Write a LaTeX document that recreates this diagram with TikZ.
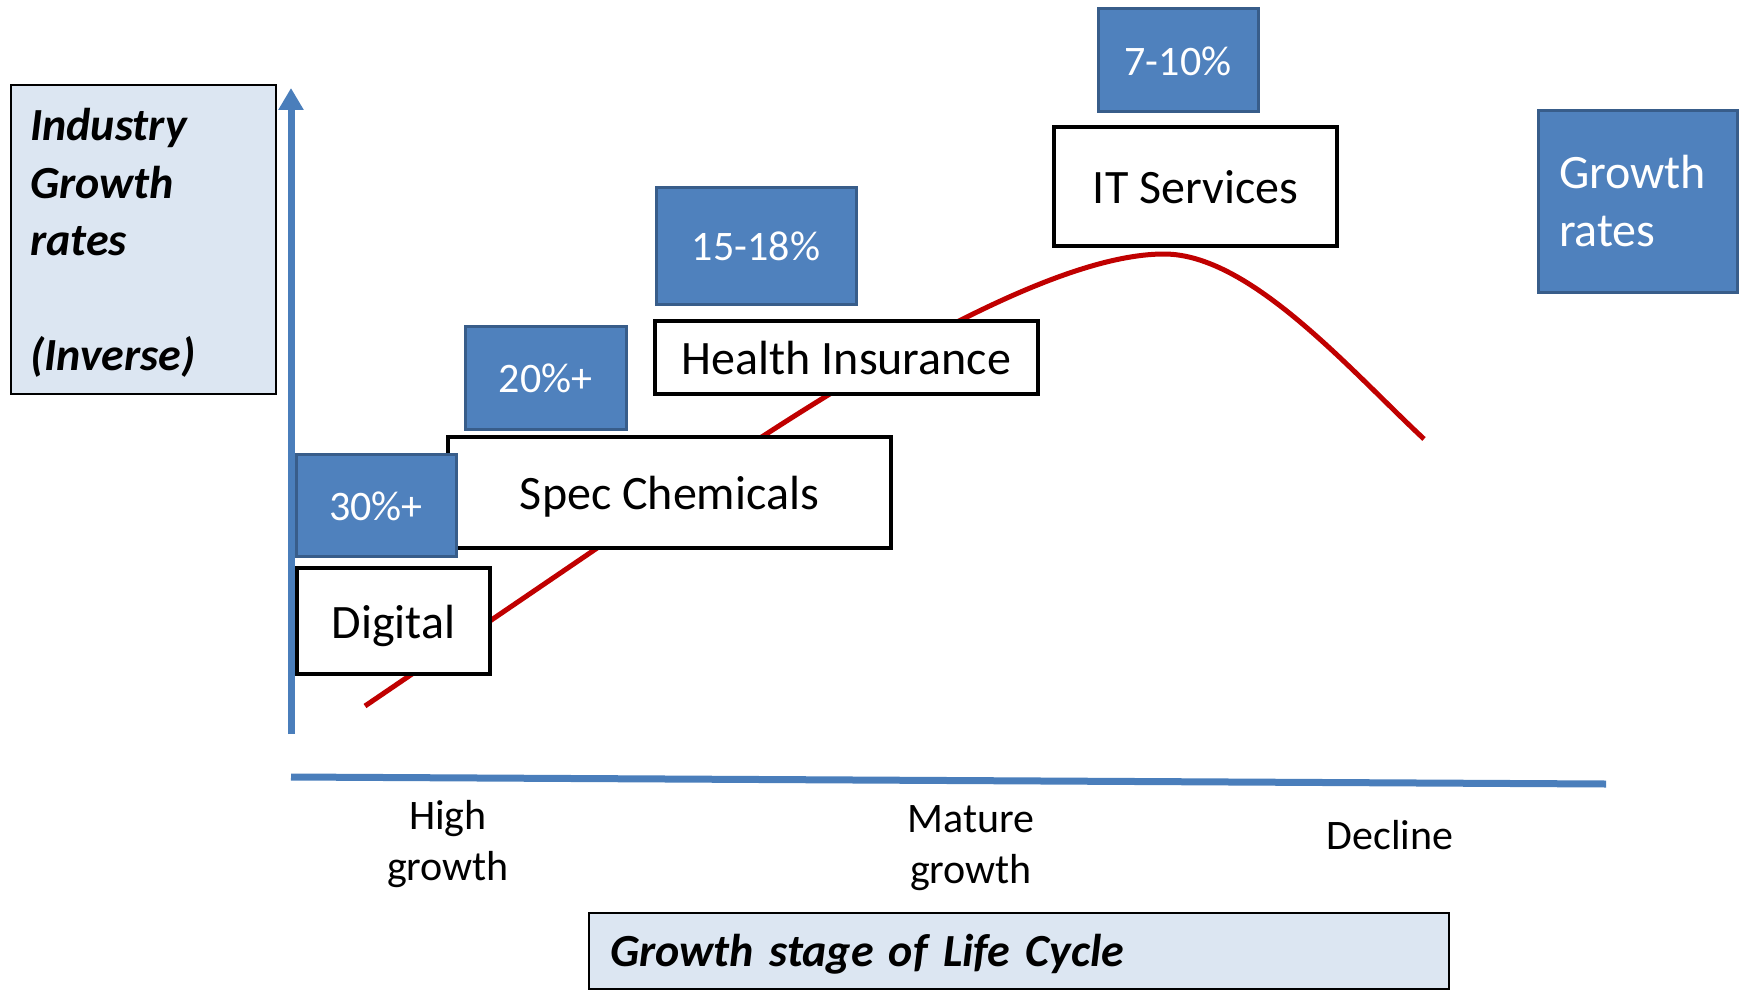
\documentclass[tikz,border=0pt]{standalone}
\usepackage{fontspec}
\setmainfont{Carlito}
\usetikzlibrary{arrows.meta}
\definecolor{boxblue}{HTML}{4F81BD}
\definecolor{boxborder}{HTML}{385D8A}
\definecolor{axisblue}{HTML}{4A7EBB}
\definecolor{lightfill}{HTML}{DCE6F2}
\definecolor{curvered}{HTML}{C00000}
\begin{document}
\begin{tikzpicture}[x=0.5pt,y=-0.5pt,
  blackbox/.style={draw=black, line width=2.2pt, fill=white, inner sep=0pt,
    text height=19.5pt, text depth=2.5pt,
    font=\fontsize{24}{29}\selectfont},
  bluebox/.style={draw=boxborder, line width=1.5pt, fill=boxblue, text=white,
    inner sep=0pt, text height=17pt, text depth=1.8pt, font=\fontsize{21}{25}\selectfont},
  lightbox/.style={draw=black, line width=0.75pt, fill=lightfill, inner ysep=0pt,
    align=left, font=\fontsize{23}{28.7}\selectfont\bfseries\itshape},
  axisline/.style={draw=axisblue, line width=3.5pt},
  lifecurve/.style={draw=curvered, line width=2.5pt},
  stagelabel/.style={align=center, inner sep=0pt, font=\fontsize{21}{25.5}\selectfont}]
\useasboundingbox (0,0) rectangle (1744,990);

% axes
\coordinate (yaxisbot) at (291,734);
\coordinate (yaxistop) at (291,88);
\coordinate (xaxisL) at (291,777);
\coordinate (xaxisR) at (1606,784);
\draw[axisline,-{Triangle[width=12pt,length=11pt]}] (yaxisbot) -- (yaxistop);
\draw[axisline] (xaxisL) -- (xaxisR);

% life cycle curve
\coordinate (cstart) at (365,706);
\coordinate (cpeak) at (1164,254);
\coordinate (cend) at (1424,439);
\draw[lifecurve] (cstart) -- (700,478) .. controls (880,356) and (1060,254) .. (cpeak)
  .. controls (1250,254) and (1350,370) .. (cend);

% axis title boxes
\node[lightbox, minimum width=132.5pt, minimum height=154.5pt, inner xsep=9.5pt,
  text width=113.5pt] (ytitle) at (143.5,239.5)
  {\rule{0pt}{19.5pt}Industry\\Growth\\rates\\\mbox{}\\(Inverse)};
\node[lightbox, minimum width=430pt, minimum height=38pt, inner xsep=10.5pt,
  text width=409pt, text height=17pt, text depth=2pt,
  font=\fontsize{23}{28}\selectfont\bfseries\itshape] (xtitle) at (1019,951)
  {Growth stage of Life Cycle};

% stage labels
\node[stagelabel] (high) at (448,844) {High\\growth};
\node[stagelabel] (mature) at (971,848) {Mature\\growth};
\node[stagelabel] (decline) at (1390,835) {Decline};

% industries
\node[blackbox, minimum width=221.5pt, minimum height=55.5pt] (spec) at (669.5,492.5) {Spec Chemicals};
\node[bluebox, minimum width=80pt, minimum height=51pt] (r30) at (376,505) {30\%+};
\node[blackbox, minimum width=96.5pt, minimum height=53pt] (digital) at (393.5,621) {Digital};
\node[bluebox, minimum width=80.5pt, minimum height=51.5pt] (r20) at (545.5,377.5) {20\%+};
\node[blackbox, minimum width=191.5pt, minimum height=36.5pt] (health) at (846.5,357.5) {Health Insurance};
\node[bluebox, minimum width=100pt, minimum height=58.5pt] (r15) at (756,245.5) {15-18\%};
\node[blackbox, minimum width=141.5pt, minimum height=59.5pt] (it) at (1195.5,186.5) {IT Services};
\node[bluebox, minimum width=80pt, minimum height=51.5pt] (r7) at (1178,60.5) {7-10\%};

% legend
\node[bluebox, minimum width=99.5pt, minimum height=90.5pt, inner xsep=10.5pt,
  text height=, text depth=, text width=78.5pt, align=left,
  font=\fontsize{24}{29}\selectfont] (legend) at (1637.5,201.5)
  {Growth\\rates};
\end{tikzpicture}
\end{document}
